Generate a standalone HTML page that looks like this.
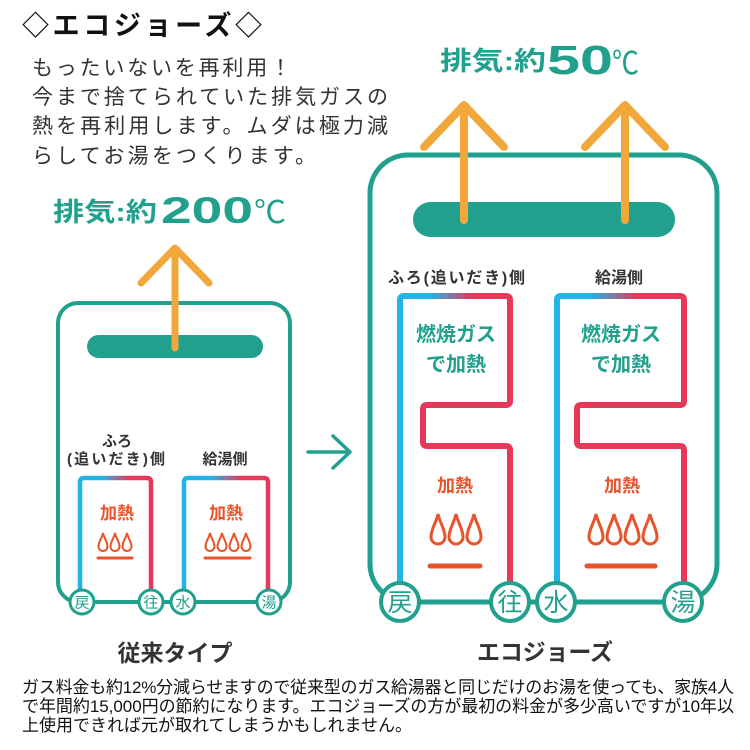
<!DOCTYPE html>
<html><head><meta charset="utf-8"><style>
html,body{margin:0;padding:0;background:#fff;}
svg{display:block;}
text{font-family:"Liberation Sans","Noto Sans CJK JP",sans-serif;}
</style></head><body>
<svg width="750" height="750" viewBox="0 0 750 750" xmlns="http://www.w3.org/2000/svg">
<defs>
<linearGradient id="gs1" gradientUnits="userSpaceOnUse" x1="80" y1="0" x2="151" y2="0">
<stop offset="0.3" stop-color="#22b4e6"/><stop offset="0.7" stop-color="#e8385a"/></linearGradient>
<linearGradient id="gs2" gradientUnits="userSpaceOnUse" x1="184" y1="0" x2="268" y2="0">
<stop offset="0.3" stop-color="#22b4e6"/><stop offset="0.7" stop-color="#e8385a"/></linearGradient>
<linearGradient id="gb1" gradientUnits="userSpaceOnUse" x1="400" y1="0" x2="510" y2="0">
<stop offset="0.28" stop-color="#22b4e6"/><stop offset="0.65" stop-color="#e8385a"/></linearGradient>
<linearGradient id="gb2" gradientUnits="userSpaceOnUse" x1="557" y1="0" x2="684" y2="0">
<stop offset="0.27" stop-color="#22b4e6"/><stop offset="0.63" stop-color="#e8385a"/></linearGradient>
</defs>
<rect width="750" height="750" fill="#fff"/>

<!-- Title & intro -->
<text x="22" y="35" font-size="27" font-weight="bold" fill="#111" textLength="240" lengthAdjust="spacing">◇エコジョーズ◇</text>
<g font-size="21" fill="#333">
<text x="32" y="75" textLength="259" lengthAdjust="spacing">もったいないを再利用！</text>
<text x="32" y="104" textLength="356" lengthAdjust="spacing">今まで捨てられていた排気ガスの</text>
<text x="32" y="133" textLength="356" lengthAdjust="spacing">熱を再利用します。ムダは極力減</text>
<text x="32" y="163" textLength="284" lengthAdjust="spacing">らしてお湯をつくります。</text>
</g>

<!-- Left temperature label -->
<g fill="#21a08d" font-weight="bold">
<text x="53" y="221" font-size="26" textLength="104" lengthAdjust="spacingAndGlyphs">排気:約</text>
<text x="161" y="223" font-size="37" textLength="92" lengthAdjust="spacingAndGlyphs">200</text>
<text x="254" y="223" font-size="31" font-weight="normal" textLength="32" lengthAdjust="spacingAndGlyphs">℃</text>
</g>
<!-- Right temperature label -->
<g fill="#21a08d" font-weight="bold">
<text x="440" y="70" font-size="26" textLength="106" lengthAdjust="spacingAndGlyphs">排気:約</text>
<text x="547" y="74" font-size="41" textLength="66" lengthAdjust="spacingAndGlyphs">50</text>
<text x="612" y="74" font-size="32" font-weight="normal" textLength="27" lengthAdjust="spacingAndGlyphs">℃</text>
</g>

<!-- ===== Left device ===== -->
<rect x="58" y="303" width="232" height="299" rx="20" fill="none" stroke="#21a08d" stroke-width="4"/>
<rect x="87" y="335" width="176" height="23" rx="11.5" fill="#21a08d"/>
<g stroke="#f2a73b" stroke-width="7" stroke-linecap="round" stroke-linejoin="round" fill="none">
<line x1="175" y1="348" x2="175" y2="249"/>
<polyline points="141,283 175,248 209,283"/>
</g>
<g font-size="15" font-weight="bold" fill="#333" text-anchor="middle">
<text x="117" y="446">ふろ</text>
<text x="116" y="464" textLength="98" lengthAdjust="spacing">(追いだき)側</text>
<text x="225" y="464">給湯側</text>
</g>
<path d="M80,592 V482 Q80,478 84,478 H147 Q151,478 151,482 V592" fill="none" stroke="url(#gs1)" stroke-width="4.5"/>
<path d="M184,592 V482 Q184,478 188,478 H264 Q268,478 268,482 V592" fill="none" stroke="url(#gs2)" stroke-width="4.5"/>
<g font-size="17" font-weight="bold" fill="#e8542a" text-anchor="middle">
<text x="117" y="519">加熱</text>
<text x="226" y="519">加熱</text>
</g>
<g fill="#fff" stroke="#e8542a" stroke-width="2">
<path d="M103,533 C102,538 98.5,542 98.5,546.5 A4.5,4.5 0 0 0 107.5,546.5 C107.5,542 104,538 103,533 Z"/>
<path d="M115,533 C114,538 110.5,542 110.5,546.5 A4.5,4.5 0 0 0 119.5,546.5 C119.5,542 116,538 115,533 Z"/>
<path d="M127,533 C126,538 122.5,542 122.5,546.5 A4.5,4.5 0 0 0 131.5,546.5 C131.5,542 128,538 127,533 Z"/>
<path d="M210,533 C209,538 205.5,542 205.5,546.5 A4.5,4.5 0 0 0 214.5,546.5 C214.5,542 211,538 210,533 Z"/>
<path d="M222,533 C221,538 217.5,542 217.5,546.5 A4.5,4.5 0 0 0 226.5,546.5 C226.5,542 223,538 222,533 Z"/>
<path d="M234,533 C233,538 229.5,542 229.5,546.5 A4.5,4.5 0 0 0 238.5,546.5 C238.5,542 235,538 234,533 Z"/>
<path d="M246,533 C245,538 241.5,542 241.5,546.5 A4.5,4.5 0 0 0 250.5,546.5 C250.5,542 247,538 246,533 Z"/>
</g>
<g stroke="#e8542a" stroke-width="3" stroke-linecap="round">
<line x1="98" y1="558" x2="132" y2="558"/>
<line x1="205" y1="558" x2="250" y2="558"/>
</g>
<g fill="#fff" stroke="#21a08d" stroke-width="3">
<circle cx="82" cy="602" r="12"/><circle cx="151" cy="602" r="12"/>
<circle cx="183" cy="602" r="12"/><circle cx="269" cy="602" r="12"/>
</g>
<g font-size="15" fill="#21a08d" text-anchor="middle">
<text x="82" y="607.5">戻</text><text x="151" y="607.5">往</text>
<text x="183" y="607.5">水</text><text x="269" y="607.5">湯</text>
</g>
<text x="175" y="661" font-size="23" font-weight="bold" fill="#333" text-anchor="middle" textLength="115" lengthAdjust="spacing">従来タイプ</text>

<!-- middle arrow -->
<g stroke="#21a08d" stroke-width="3.5" stroke-linecap="round" stroke-linejoin="round" fill="none">
<line x1="308" y1="452" x2="349" y2="452"/>
<polyline points="333,436 350,452 333,468"/>
</g>

<!-- ===== Right device ===== -->
<rect x="370" y="155" width="347" height="447" rx="38" fill="none" stroke="#21a08d" stroke-width="5"/>
<rect x="413" y="202" width="262" height="35" rx="17.5" fill="#21a08d"/>
<g stroke="#f2a73b" stroke-width="8" stroke-linecap="round" stroke-linejoin="round" fill="none">
<line x1="464" y1="220" x2="464" y2="106"/>
<polyline points="424,147 464,105 504,147"/>
<line x1="625" y1="220" x2="625" y2="106"/>
<polyline points="585,147 625,105 665,147"/>
</g>
<g font-size="16" font-weight="bold" fill="#333">
<text x="388" y="283" textLength="137" lengthAdjust="spacing">ふろ(追いだき)側</text>
<text x="619" y="283" text-anchor="middle">給湯側</text>
</g>
<!-- left big pipe -->
<path d="M400,592 V300 Q400,296 404,296 H506 Q510,296 510,300 V312" fill="none" stroke="url(#gb1)" stroke-width="6"/>
<path d="M510,306 V401 Q510,405 506,405 H427 Q423,405 423,409 V442 Q423,446 427,446 H506 Q510,446 510,450 V592" fill="none" stroke="#e8385a" stroke-width="6"/>
<!-- right big pipe -->
<path d="M557,592 V300 Q557,296 561,296 H680 Q684,296 684,300 V312" fill="none" stroke="url(#gb2)" stroke-width="6"/>
<path d="M684,306 V401 Q684,405 680,405 H581 Q577,405 577,409 V442 Q577,446 581,446 H680 Q684,446 684,450 V592" fill="none" stroke="#e8385a" stroke-width="6"/>

<g font-size="20" font-weight="bold" fill="#21a08d" text-anchor="middle">
<text x="456" y="341">燃焼ガス</text>
<text x="456" y="371">で加熱</text>
<text x="621" y="341">燃焼ガス</text>
<text x="621" y="371">で加熱</text>
</g>
<g font-size="18" font-weight="bold" fill="#e8542a" text-anchor="middle">
<text x="455" y="492">加熱</text>
<text x="622" y="492">加熱</text>
</g>
<g fill="#fff" stroke="#e8542a" stroke-width="3">
<path d="M438,514 C436.5,522 431,529 431,537 A7,7 0 0 0 445,537 C445,529 439.5,522 438,514 Z"/>
<path d="M456,514 C454.5,522 449,529 449,537 A7,7 0 0 0 463,537 C463,529 457.5,522 456,514 Z"/>
<path d="M474,514 C472.5,522 467,529 467,537 A7,7 0 0 0 481,537 C481,529 475.5,522 474,514 Z"/>
<path d="M596,514 C594.5,522 589,529 589,537 A7,7 0 0 0 603,537 C603,529 597.5,522 596,514 Z"/>
<path d="M614,514 C612.5,522 607,529 607,537 A7,7 0 0 0 621,537 C621,529 615.5,522 614,514 Z"/>
<path d="M632,514 C630.5,522 625,529 625,537 A7,7 0 0 0 639,537 C639,529 633.5,522 632,514 Z"/>
<path d="M650,514 C648.5,522 643,529 643,537 A7,7 0 0 0 657,537 C657,529 651.5,522 650,514 Z"/>
</g>
<g stroke="#e8542a" stroke-width="5" stroke-linecap="round">
<line x1="430" y1="566" x2="480" y2="566"/>
<line x1="587" y1="566" x2="655" y2="566"/>
</g>
<g fill="#fff" stroke="#21a08d" stroke-width="4">
<circle cx="400" cy="602" r="19"/><circle cx="510" cy="602" r="19"/>
<circle cx="556" cy="602" r="19"/><circle cx="683" cy="602" r="19"/>
</g>
<g font-size="25" fill="#21a08d" text-anchor="middle">
<text x="400" y="611">戻</text><text x="510" y="611">往</text>
<text x="556" y="611">水</text><text x="683" y="611">湯</text>
</g>
<text x="545" y="660" font-size="23" font-weight="bold" fill="#333" text-anchor="middle" textLength="136" lengthAdjust="spacing">エコジョーズ</text>

<!-- bottom text -->
<g font-size="17" fill="#111">
<text x="22" y="693" textLength="712" lengthAdjust="spacing">ガス料金も約12%分減らせますので従来型のガス給湯器と同じだけのお湯を使っても、家族4人</text>
<text x="22" y="712" textLength="712" lengthAdjust="spacing">で年間約15,000円の節約になります。エコジョーズの方が最初の料金が多少高いですが10年以</text>
<text x="22" y="731">上使用できれば元が取れてしまうかもしれません。</text>
</g>
</svg>
</body></html>
